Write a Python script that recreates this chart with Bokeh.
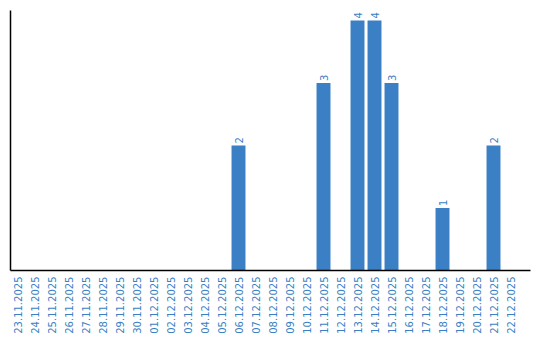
import math
from bokeh.plotting import figure
from bokeh.models import ColumnDataSource, FixedTicker, Range1d
from bokeh.core.properties import value
from bokeh.embed import file_html
from bokeh.resources import INLINE

dates = ["23.11.2025", "24.11.2025", "25.11.2025", "26.11.2025", "27.11.2025",
         "28.11.2025", "29.11.2025", "30.11.2025", "01.12.2025", "02.12.2025",
         "03.12.2025", "04.12.2025", "05.12.2025", "06.12.2025", "07.12.2025",
         "08.12.2025", "09.12.2025", "10.12.2025", "11.12.2025", "12.12.2025",
         "13.12.2025", "14.12.2025", "15.12.2025", "16.12.2025", "17.12.2025",
         "18.12.2025", "19.12.2025", "20.12.2025", "21.12.2025", "22.12.2025"]
counts = [0, 0, 0, 0, 0, 0, 0, 0, 0, 0,
          0, 0, 0, 2, 0, 0, 0, 0, 3, 0,
          4, 4, 3, 0, 0, 1, 0, 0, 2, 0]

BLUE = "#3b7fc4"
xs = list(range(len(dates)))
src = ColumnDataSource(dict(x=xs, top=counts))
lab_x = [x for x, c in zip(xs, counts) if c > 0]
lab_y = [c for c in counts if c > 0]
lab_t = [str(c) for c in counts if c > 0]
lsrc = ColumnDataSource(dict(x=lab_x, y=lab_y, t=lab_t))

p = figure(frame_width=520, frame_height=260, output_backend="svg",
           toolbar_location=None, min_border_left=10, min_border_top=10,
           min_border_right=10, min_border_bottom=0,
           x_range=Range1d(-0.412, 30.176), y_range=Range1d(0, 4.16))
p.vbar(x="x", top="top", width=0.82, source=src, fill_color=BLUE, line_color=None)
p.text(x="x", y="y", text="t", source=lsrc, angle=math.pi / 2, y_offset=-2,
       text_align="left", text_baseline="middle", text_color=BLUE,
       text_font=value("DejaVu Sans"), text_font_size="10px")

p.xgrid.visible = False
p.ygrid.visible = False
p.outline_line_color = None

xa = p.xaxis[0]
xa.ticker = FixedTicker(ticks=xs)
xa.major_label_overrides = {i: d for i, d in enumerate(dates)}
xa.major_label_orientation = math.pi / 2
xa.major_label_text_color = BLUE
xa.major_label_text_font = "DejaVu Sans"
xa.major_label_text_font_size = "10px"
xa.major_tick_line_color = None
xa.minor_tick_line_color = None
xa.major_tick_out = 0
xa.major_tick_in = 0
xa.major_label_standoff = 6
xa.axis_line_color = "black"
xa.axis_line_width = 1.5

ya = p.yaxis[0]
ya.ticker = FixedTicker(ticks=[])
ya.major_tick_line_color = None
ya.minor_tick_line_color = None
ya.major_tick_out = 0
ya.major_tick_in = 0
ya.major_label_standoff = 0
ya.axis_line_color = "black"
ya.axis_line_width = 1.5

open("out.html", "w").write(file_html(p, INLINE))
